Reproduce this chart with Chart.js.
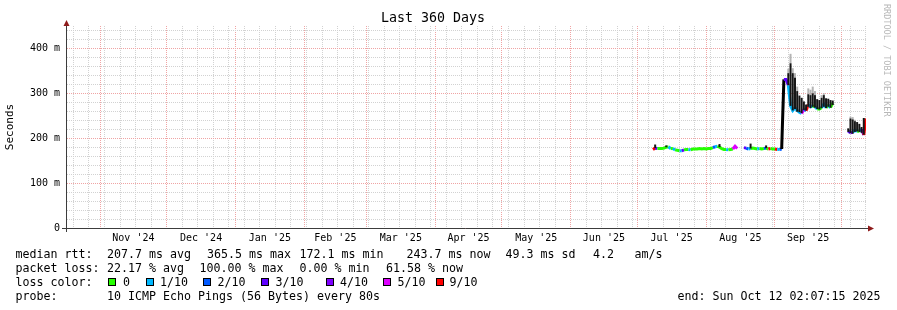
<!DOCTYPE html>
<html>
<head>
<meta charset="utf-8">
<title>Last 360 Days</title>
<script src="https://cdn.jsdelivr.net/npm/chart.js@4.4.1/dist/chart.umd.min.js"></script>
<style>
  html, body { margin: 0; padding: 0; background: #fff; }
  #wrap { position: relative; width: 897px; height: 310px; overflow: hidden; font-family: 'DejaVu Sans Mono', monospace; }
  #wrap canvas { position: absolute; left: 0; top: 0; }
  .t { position: absolute; font-size: 11.63px; line-height: 14px; white-space: pre; color: #000; }
  .box { position: absolute; top: 278px; width: 6px; height: 6px; border: 1px solid #000; }
  #credit { position: absolute; left: 882px; top: 4px; writing-mode: vertical-rl; font-size: 8.5px; line-height: 10px; color: #b8b8b8; white-space: pre; }
</style>
</head>
<body>
<div id="wrap">
  <canvas id="chart" width="897" height="310"></canvas>
  <div id="credit">RRDTOOL / TOBI OETIKER</div>

  <div class="t" style="left:15.5px;top:247px">median rtt:</div>
  <div class="t" style="left:107px;top:247px">207.7 ms avg</div>
  <div class="t" style="left:207px;top:247px">365.5 ms max</div>
  <div class="t" style="left:299.5px;top:247px">172.1 ms min</div>
  <div class="t" style="left:406.5px;top:247px">243.7 ms now</div>
  <div class="t" style="left:505.5px;top:247px">49.3 ms sd</div>
  <div class="t" style="left:593px;top:247px">4.2</div>
  <div class="t" style="left:634.5px;top:247px">am/s</div>

  <div class="t" style="left:15.5px;top:261px">packet loss:</div>
  <div class="t" style="left:107px;top:261px">22.17 % avg</div>
  <div class="t" style="left:199.5px;top:261px">100.00 % max</div>
  <div class="t" style="left:299.5px;top:261px">0.00 % min</div>
  <div class="t" style="left:386px;top:261px">61.58 % now</div>

  <div class="t" style="left:15.5px;top:275px">loss color:</div>
  <div id="lossLegend"></div>

  <div class="t" style="left:15.5px;top:289px">probe:</div>
  <div class="t" style="left:107px;top:289px">10 ICMP Echo Pings (56 Bytes) every 80s</div>
  <div class="t" style="left:677.5px;top:289px">end: Sun Oct 12 02:07:15 2025</div>
</div>

<script>
// graph covers 360 days ending Sun Oct 12 02:07:15 2025
const START = Date.UTC(2024, 9, 17, 2, 7, 15);
const DAY = 86400000;
const SPAN = 360;

const monthStarts = ['2024-11-01', '2024-12-01', '2025-01-01', '2025-02-01', '2025-03-01', '2025-04-01',
                     '2025-05-01', '2025-06-01', '2025-07-01', '2025-08-01', '2025-09-01', '2025-10-01'];
const monthLabels = ["Nov '24", "Dec '24", "Jan '25", "Feb '25", "Mar '25", "Apr '25",
                     "May '25", "Jun '25", "Jul '25", "Aug '25", "Sep '25"];
const firstSunday = '2024-10-20';
const yMajor = [0, 100, 200, 300, 400];
const yMinor = [20, 40, 60, 80, 120, 140, 160, 180, 220, 240, 260, 280, 320, 340, 360, 380, 420, 440];

// one sample per day, starting 2025-07-08 (day 264 of the graph)
const firstDay = 264;
const median = [
  175, 178, 177, 177, 177, 178, 180, 181, 177, 177, 174, 173, 172, 172, 174, 175, 175, 174, 176, 176,
  176, 177, 176, 177, 176, 177, 177, 179, 181, 182, 180, 177, 175, 175, 174, 175, 176, 182, 177, null,
  null, 179, 178, 176, 177, 178, 177, 176, 177, 176, 177, 178, 176, 177, 176, 176, 175, 175, 176, 331,
  331, 318, 272, 262, 268, 262, 258, 255, 265, 261, 275, 270, 272, 270, 265, 265, 268, 276, 268, 274,
  268, 278, null, null, null, null, null, null, 216, 212, 213, 218, 215, 216, 220, 207, 244
];
const loss = [
  9, 3, 0, 0, 0, 0, 0, 1, 0, 1, 0, 0, 1, 3, 0, 0, 1, 0, 0, 0,
  0, 0, 0, 0, 0, 0, 0, 2, 1, 0, 0, 0, 0, 1, 0, 0, 5, 5, 9, null,
  null, 3, 2, 1, 0, 0, 0, 1, 0, 0, 2, 0, 9, 0, 0, 9, 1, 2, 1, 3,
  3, 1, 1, 1, 1, 1, 1, 5, 2, 9, 1, 1, 0, 1, 0, 0, 1, 1, 0, 1,
  0, 1, null, null, null, null, null, null, 3, 4, 1, 1, 0, 1, 3, 9, 9
];
// smoke: dense part (low..high) and faint top
const smokeLow = [
  null, 178, null, null, null, null, 180, null, null, null, null, null, null, null, null, null, null, null, null, null,
  null, null, null, null, null, null, null, null, null, null, 180, null, null, null, null, null, null, null, null, null,
  null, null, null, null, 177, null, null, null, null, null, null, 178, null, null, null, null, null, null, null, null,
  null, 318, 272, 262, 265, 259, 258, 256, 263, 262, 270, 267, 270, 268, 265, 264, 267, 270, 267, 270,
  268, 274, null, null, null, null, null, null, 214, 211, 210, 214, 215, 214, 212, 208, null
];
const smokeHigh = [
  null, 186, null, null, null, null, 184, null, null, null, null, null, null, null, null, null, null, null, null, null,
  null, null, null, null, null, null, null, null, null, null, 187, null, null, null, null, null, null, null, null, null,
  null, null, null, null, 188, null, null, null, null, null, null, 184, null, null, null, null, null, null, null, null,
  null, 345, 367, 345, 335, 305, 295, 290, 282, 275, 298, 296, 300, 296, 287, 285, 290, 296, 289, 288,
  285, 284, null, null, null, null, null, null, 222, 244, 242, 238, 236, 232, 225, 245, null
];
const smokeTop = [
  null, null, null, null, null, null, null, null, null, null, null, null, null, null, null, null, null, null, null, null,
  null, null, null, null, null, null, null, null, null, null, null, null, null, null, null, null, null, null, null, null,
  null, null, null, null, null, null, null, null, null, null, null, null, null, null, null, null, null, null, null, null,
  null, 355, 388, 356, 345, 315, null, null, null, null, 311, 308, 315, 305, null, null, 296, 300, null, null,
  null, null, null, null, null, null, null, null, null, 248, 247, 241, null, null, null, null, null
];

const lossColors = { 0: '#26ff00', 1: '#00b8ff', 2: '#0059ff', 3: '#5e00ff', 4: '#7e00ff', 5: '#dd00ff', 9: '#ff0000' };
const lossLegend = [
  { key: 0, text: '0', box: 108, label: 123 },
  { key: 1, text: '1/10', box: 145.5, label: 160 },
  { key: 2, text: '2/10', box: 203, label: 217.5 },
  { key: 3, text: '3/10', box: 260.5, label: 275.5 },
  { key: 4, text: '4/10', box: 325.5, label: 340 },
  { key: 5, text: '5/10', box: 382.5, label: 397.5 },
  { key: 9, text: '9/10', box: 435.5, label: 449.5 }
];

const legendEl = document.getElementById('lossLegend');
lossLegend.forEach(item => {
  const b = document.createElement('div');
  b.className = 'box';
  b.style.left = item.box + 'px';
  b.style.background = lossColors[item.key];
  legendEl.appendChild(b);
  const t = document.createElement('div');
  t.className = 't';
  t.style.left = item.label + 'px';
  t.style.top = '275px';
  t.textContent = item.text;
  legendEl.appendChild(t);
});

const dayOf = s => (Date.parse(s + 'T00:00:00Z') - START) / DAY;
const monthTicks = monthStarts.map(dayOf);
const labelTicks = monthLabels.map((_, i) => (monthTicks[i] + monthTicks[i + 1]) / 2);
const weekTicks = [];
for (let d = dayOf(firstSunday); d <= SPAN; d += 7) {
  if (!monthTicks.some(m => Math.abs(m - d) < 0.01)) weekTicks.push(d);
}

const pts = arr => arr.map((v, i) => ({ x: firstDay + i, y: v }));
const mono = 'DejaVu Sans Mono';
const minorGrid = '#d2d2d2';
const majorGrid = '#f0a4a4';

const axisLines = {
  id: 'axisLines',
  afterDraw(chart) {
    const { ctx, chartArea: a } = chart;
    const x0 = Math.round(a.left) - 0.5;
    const y0 = Math.round(a.bottom) + 0.5;
    ctx.save();
    ctx.strokeStyle = '#3c3c3c';
    ctx.lineWidth = 1;
    ctx.beginPath();
    ctx.moveTo(a.left - 5, y0);
    ctx.lineTo(a.right + 3, y0);
    ctx.moveTo(x0, a.bottom + 4);
    ctx.lineTo(x0, a.top - 3);
    ctx.stroke();
    ctx.fillStyle = '#8e1b1b';
    ctx.beginPath();
    ctx.moveTo(a.right + 2, y0 - 3);
    ctx.lineTo(a.right + 8, y0);
    ctx.lineTo(a.right + 2, y0 + 3);
    ctx.closePath();
    ctx.fill();
    ctx.beginPath();
    ctx.moveTo(x0 - 3, a.top);
    ctx.lineTo(x0, a.top - 6);
    ctx.lineTo(x0 + 3, a.top);
    ctx.closePath();
    ctx.fill();
    ctx.restore();
  }
};

new Chart(document.getElementById('chart'), {
  type: 'line',
  data: {
    datasets: [
      {
        type: 'bar',
        label: 'smoke',
        data: pts(smokeLow.map((lo, i) => lo == null ? null : [lo, smokeHigh[i]])),
        backgroundColor: '#161616',
        borderWidth: 0,
        grouped: false,
        barPercentage: 0.9,
        categoryPercentage: 1,
        order: 0
      },
      {
        type: 'bar',
        label: 'smoke top',
        data: pts(smokeTop.map((t, i) => t == null ? null : [smokeHigh[i], t])),
        backgroundColor: '#b4b4b4',
        borderWidth: 0,
        grouped: false,
        barPercentage: 0.9,
        categoryPercentage: 1,
        order: 0
      },
      {
        type: 'line',
        label: 'median rtt',
        data: pts(median),
        borderColor: '#26ff00',
        borderWidth: 3,
        pointRadius: 0,
        tension: 0,
        spanGaps: false,
        segment: {
          borderColor: ctx => {
            if (Math.abs(ctx.p1.parsed.y - ctx.p0.parsed.y) > 60) return '#000';
            return lossColors[loss[ctx.p0DataIndex]];
          }
        },
        order: 1
      }
    ]
  },
  options: {
    responsive: false,
    animation: false,
    devicePixelRatio: 1,
    layout: { padding: { left: 0, right: 31, top: 0, bottom: 62 } },
    plugins: {
      legend: { display: false },
      tooltip: { enabled: false },
      title: {
        display: true,
        text: 'Last 360 Days',
        color: '#000',
        font: { family: mono, size: 13.3, weight: 'normal', lineHeight: 1 },
        padding: { top: 12, bottom: 0.7 }
      }
    },
    scales: {
      x: {
        type: 'linear', position: 'bottom', min: 0, max: SPAN, offset: false,
        afterBuildTicks: s => { s.ticks = weekTicks.map(v => ({ value: v })); },
        ticks: { display: false },
        grid: { color: minorGrid, drawTicks: false, offset: false },
        border: { display: false, dash: [1, 1] },
        afterFit: s => { s.height = 0; }
      },
      xMonth: {
        type: 'linear', position: 'bottom', min: 0, max: SPAN, offset: false,
        afterBuildTicks: s => { s.ticks = monthTicks.map(v => ({ value: v })); },
        ticks: { display: false },
        grid: { color: majorGrid, drawTicks: false, offset: false },
        border: { display: false, dash: [1, 1] },
        afterFit: s => { s.height = 0; }
      },
      xLabel: {
        type: 'linear', position: 'bottom', min: 0, max: SPAN, offset: false,
        afterBuildTicks: s => { s.ticks = labelTicks.map(v => ({ value: v })); },
        ticks: {
          color: '#000', font: { family: mono, size: 10 }, padding: 4,
          autoSkip: false, maxRotation: 0, minRotation: 0,
          callback: (v, i) => monthLabels[i]
        },
        grid: { display: false, drawTicks: false },
        border: { display: false },
        afterFit: s => { s.height = 20; }
      },
      y: {
        type: 'linear', position: 'left', min: 0, max: 450,
        afterBuildTicks: s => { s.ticks = yMajor.map(v => ({ value: v })); },
        ticks: {
          color: '#000', font: { family: mono, size: 10 }, padding: 7,
          callback: v => v === 0 ? '0' : v + ' m'
        },
        grid: { color: majorGrid, drawTicks: false },
        border: { display: false, dash: [1, 1] },
        title: {
          display: true, text: 'Seconds', color: '#000',
          font: { family: mono, size: 11, weight: 'normal' },
          padding: { top: 4, bottom: 0 }
        },
        afterFit: s => { s.width = 67; }
      },
      yMinor: {
        type: 'linear', position: 'left', min: 0, max: 450,
        afterBuildTicks: s => { s.ticks = yMinor.map(v => ({ value: v })); },
        ticks: { display: false },
        grid: { color: minorGrid, drawTicks: false },
        border: { display: false, dash: [1, 1] },
        afterFit: s => { s.width = 0; }
      }
    }
  },
  plugins: [axisLines]
});
</script>
</body>
</html>
